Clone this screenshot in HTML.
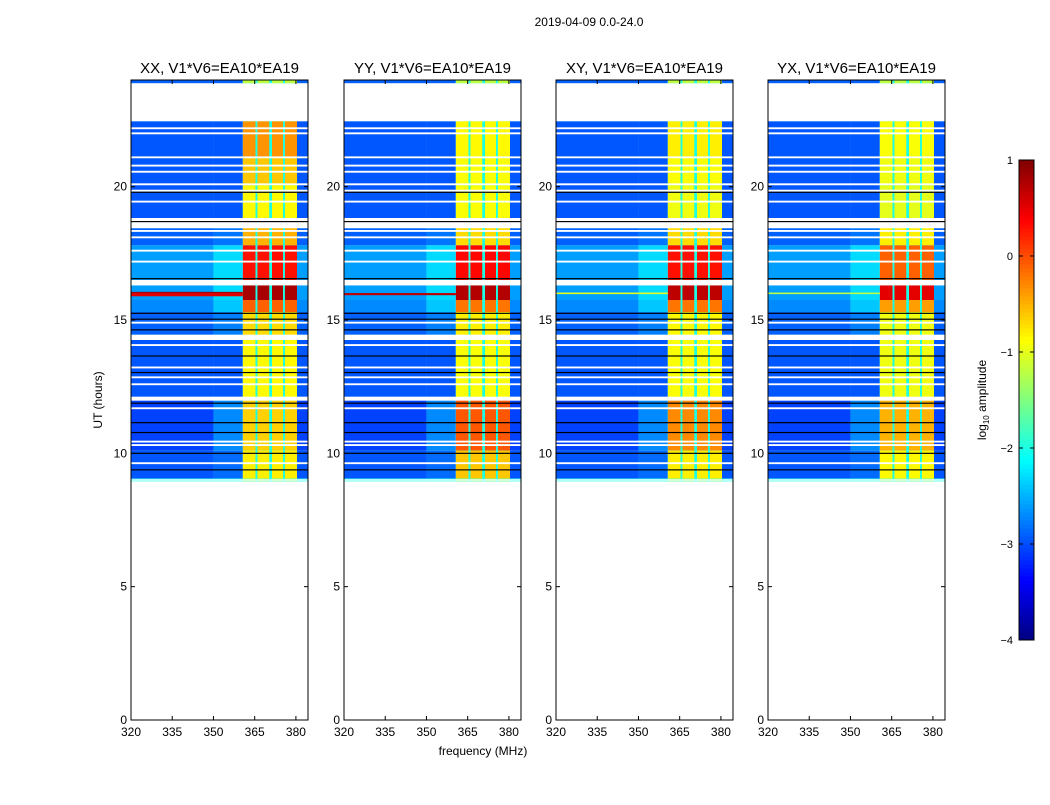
<!DOCTYPE html>
<html><head><meta charset="utf-8"><style>
body{margin:0;background:#fff;}
svg text{font-family:"Liberation Sans",sans-serif;fill:#000;}
</style></head><body>
<svg id="fig" width="1050" height="800" xmlns="http://www.w3.org/2000/svg">
<text x="589" y="26" font-size="12" text-anchor="middle">2019-04-09 0.0-24.0</text>
<text x="102" y="400" font-size="12" text-anchor="middle" transform="rotate(-90 102 400)">UT (hours)</text>
<text x="483" y="755" font-size="12" text-anchor="middle">frequency (MHz)</text>
<g id="panels"></g>
<g id="cbar"></g>
<text x="986" y="400" font-size="12" text-anchor="middle" transform="rotate(-90 986 400)">log<tspan font-size="8" dy="3">10</tspan><tspan dy="-3"> amplitude</tspan></text>
</svg>
<script>
const panelTitles=["XX, V1*V6=EA10*EA19","YY, V1*V6=EA10*EA19","XY, V1*V6=EA10*EA19","YX, V1*V6=EA10*EA19"];
const segStart=[23.88,21.1,20.05,18.8,17.8,16.5,15.75,15.3,14.3,12.0,10.1,9.05,8.95];
const segEnd  =[24.0,22.45,21.1,20.05,18.55,17.8,16.3,15.75,15.3,14.3,12.0,10.1,9.05];
const segBg   =[-2.9,-2.95,-2.95,-2.95,-2.9,-2.6,-2.6,-2.7,-2.9,-2.95,-3.05,-2.95,-2.0];
const segHalo =[-2.9,-2.95,-2.95,-2.95,-2.8,-2.3,-2.3,-2.4,-2.75,-2.95,-2.7,-2.85,-2.0];
const bandXX=[-1.2,-0.35,-0.6,-0.85,-0.5,0.3,0.8,-0.1,-0.7,-0.85,-0.65,-0.8,-1.5];
const bandYY=[-1.2,-0.85,-0.9,-0.9,-0.7,0.35,0.75,-0.2,-0.8,-0.9,-0.05,-0.6,-1.5];
const bandXY=[-1.2,-0.8,-0.9,-0.95,-0.7,0.3,0.7,-0.2,-0.85,-0.9,-0.3,-0.8,-1.5];
const bandYX=[-1.2,-0.9,-0.95,-1.0,-0.8,-0.1,0.5,-0.4,-0.95,-0.95,-0.5,-0.85,-1.5];
const bands=[bandXX,bandYY,bandXY,bandYX];
const subStart=[360.7,366.0,371.3,376.0];
const subEnd=[365.3,370.3,375.3,380.4];
const gapLevel=-2.0;
const fullRowT=[[15.95,16.03],[15.97],[16.0],[16.0]];
const fullRowW=[[0.12,0.05],[0.08],[0.06],[0.06]];
const fullRowV=[[0.5,0.8],[0.7],[-1.0],[-1.2]];
const whiteT=[22.19,22.0,21.1,20.79,20.56,20.09,19.85,19.44,18.79,18.54,18.34,18.1,17.6,17.19,16.4,14.9,14.35,14.06,13.22,12.85,12.59,12.05,11.69,10.44,10.31,9.63,9.0];
const whiteW=[0.07,0.07,0.07,0.07,0.07,0.07,0.07,0.07,0.07,0.2,0.07,0.07,0.07,0.07,0.2,0.07,0.2,0.07,0.07,0.07,0.07,0.15,0.07,0.07,0.07,0.07,0.05];
const blackT=[19.79,18.69,16.55,15.25,15.03,14.63,13.65,13.03,11.88,11.15,10.78,10.0,9.38];
const yTicks=[0,5,10,15,20];
const xTicks=[320,335,350,365,380];
const cbTicks=[1,0,-1,-2,-3,-4];
const panelX=[131,344,556,768];
const PW=177, Y0=80, Y1=720, F0=320, F1=384.4, VMIN=-4, VMAX=1;
const NS="http://www.w3.org/2000/svg";
function jet(v){let t=(v-VMIN)/(VMAX-VMIN);t=Math.max(0,Math.min(1,t));
 const f=x=>Math.max(0,Math.min(1,x));
 const r=f(1.5-Math.abs(4*t-3)),g=f(1.5-Math.abs(4*t-2)),b=f(1.5-Math.abs(4*t-1));
 return `rgb(${Math.round(r*255)},${Math.round(g*255)},${Math.round(b*255)})`;}
const yS=t=>Y1-(t/24)*(Y1-Y0);
function el(tag,attrs,parent){const e=document.createElementNS(NS,tag);for(const k in attrs)e.setAttribute(k,attrs[k]);parent.appendChild(e);return e;}
const panels=document.getElementById('panels');
panelX.forEach((px,p)=>{
 const xS=f=>px+(f-F0)/(F1-F0)*PW;
 const g=el('g',{},panels);
 
 
 const hm=el('g',{},g);
 
 
 const rect=(f0,f1,t0,t1,v,name,col)=>{const r=el('rect',{x:xS(f0),y:yS(t1),width:Math.max(0,xS(f1)-xS(f0)),height:Math.max(0.5,yS(t0)-yS(t1)),fill:col||jet(v)},hm);
  
  };
 segStart.forEach((t0,i)=>{const t1=segEnd[i];
  rect(F0,350,t0,t1,segBg[i],'background-cell');
  rect(350,subStart[0],t0,t1,segHalo[i],'halo-cell');
  rect(subStart[0],subEnd[3],t0,t1,gapLevel,'gap-cell');
  subStart.forEach((s,k)=>rect(s,subEnd[k],t0,t1,bands[p][i],'band-cell'));
  rect(subEnd[3],F1,t0,t1,segBg[i],'background-cell');
 });
 fullRowT[p].forEach((t,k)=>rect(F0,subStart[0],t-fullRowW[p][k]/2,t+fullRowW[p][k]/2,fullRowV[p][k],'rfi-row'));
 whiteT.forEach((t,k)=>rect(F0,F1,t-whiteW[k]/2,t+whiteW[k]/2,0,'flagged-row','#fff'));
 blackT.forEach(t=>rect(F0,F1,t-0.022,t+0.022,0,'dark-row','#000'));
 const fr=el('rect',{x:px,y:Y0,width:PW,height:Y1-Y0,fill:'none',stroke:'#000','stroke-width':1},g);
 
 
 const ti=el('text',{x:px+PW/2,y:73,'font-size':15,'text-anchor':'middle'},g);ti.textContent=panelTitles[p];
 
 
 yTicks.forEach(t=>{const y=yS(t);
  el('line',{x1:px,x2:px+4,y1:y,y2:y,stroke:'#000'},g);el('line',{x1:px+PW-4,x2:px+PW,y1:y,y2:y,stroke:'#000'},g);
  const l=el('text',{x:px-4,y:y+4,'font-size':12,'text-anchor':'end'},g);l.textContent=t;
  
  });
 xTicks.forEach(f=>{const x=xS(f);
  el('line',{x1:x,x2:x,y1:Y1,y2:Y1-4,stroke:'#000'},g);el('line',{x1:x,x2:x,y1:Y0,y2:Y0+4,stroke:'#000'},g);
  const l=el('text',{x:x,y:Y1+16,'font-size':12,'text-anchor':'middle'},g);l.textContent=f;
  
  });
});
const cb=document.getElementById('cbar');
const CX=1019,CW=15,CY0=160,CY1=640;
for(let i=0;i<120;i++){const v=VMIN+(i+0.5)/120*(VMAX-VMIN);
 const r=el('rect',{x:CX,y:CY1-(i+1)*(CY1-CY0)/120,width:CW,height:(CY1-CY0)/120+0.5,fill:jet(v)},cb);
 
 }
el('rect',{x:CX,y:CY0,width:CW,height:CY1-CY0,fill:'none',stroke:'#000'},cb);
cbTicks.forEach(v=>{const y=CY1-(v-VMIN)/(VMAX-VMIN)*(CY1-CY0);
 el('line',{x1:CX,x2:CX+4,y1:y,y2:y,stroke:'#000'},cb);el('line',{x1:CX+CW-4,x2:CX+CW,y1:y,y2:y,stroke:'#000'},cb);
 const l=el('text',{x:CX-6,y:y+4,'font-size':11,'text-anchor':'end'},cb);l.textContent=v<0?'\u2212'+(-v):v;
 
 });
</script>
</body></html>
